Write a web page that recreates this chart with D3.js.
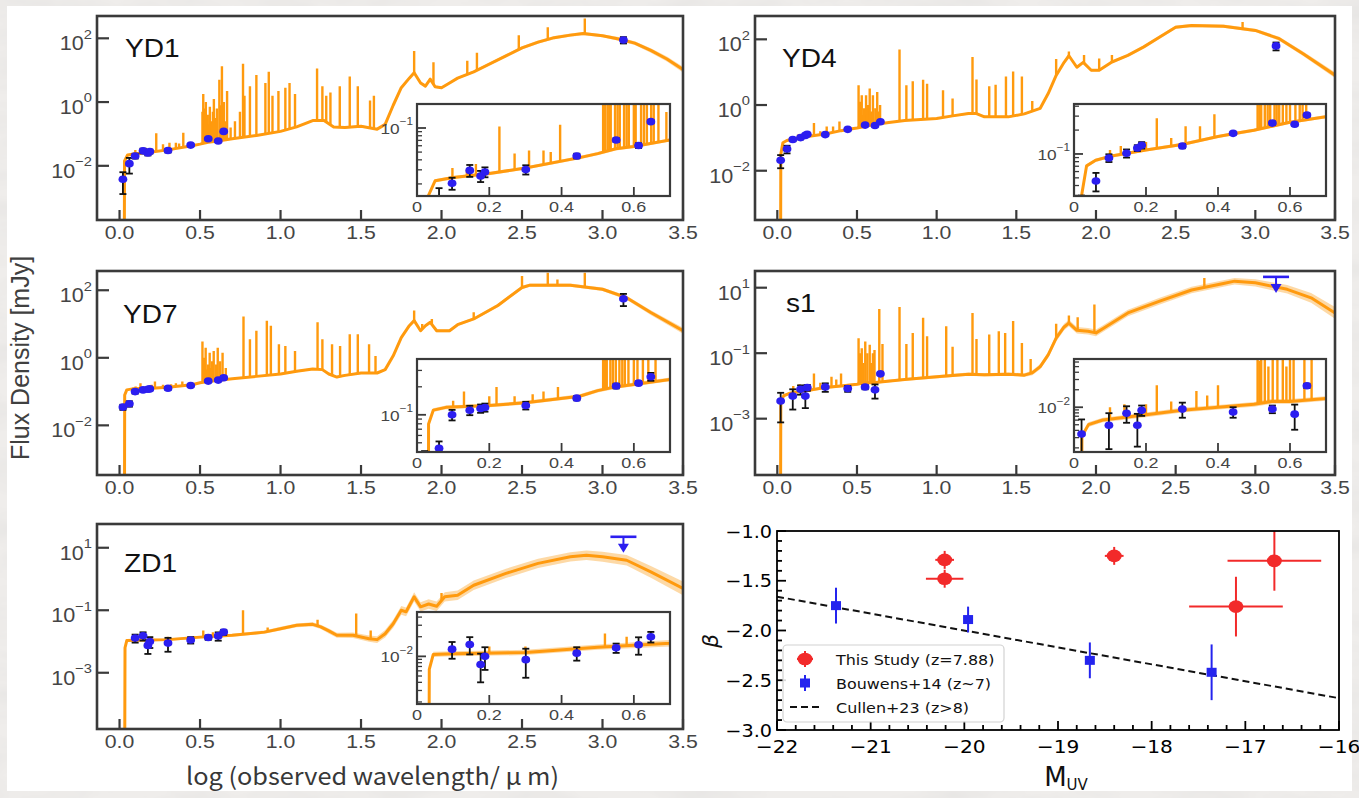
<!DOCTYPE html>
<html>
<head>
<meta charset="utf-8">
<title>SED fits and UV slopes</title>
<script src="https://cdn.jsdelivr.net/npm/d3@7/dist/d3.min.js"></script>
<style>
  html, body { margin: 0; padding: 0; background: #fff; }
  svg { display: block; }
</style>
</head>
<body>
<svg id="fig" width="1359" height="798"></svg>
<script>
// ---------------- data ----------------
// x of every spectral panel: log10(observed wavelength / micron); fluxes in mJy.
const mainXTicks = [0, 0.5, 1.0, 1.5, 2.0, 2.5, 3.0, 3.5];
const insetXTicks = [0, 0.2, 0.4, 0.6];

// Model SED continua: [log wavelength, log flux, half-width of the model band (dex)]
const yd1Continuum = [[-0.14,-6,0],[0.029,-6,0],[0.031,-1.85,0.02],[0.05,-1.66,0.02],[0.1,-1.62,0.02],[0.2,-1.57,0.02],[0.3,-1.5,0.02],[0.45,-1.37,0.02],[0.5,-1.32,0.02],[0.55,-1.26,0.02],[0.6,-1.23,0.02],[0.7,-1.15,0.02],[0.85,-1.05,0.02],[1.0,-0.92,0.02],[1.1,-0.78,0.02],[1.2,-0.58,0.03],[1.27,-0.58,0.03],[1.33,-0.78,0.03],[1.4,-0.8,0.03],[1.5,-0.76,0.03],[1.6,-0.85,0.03],[1.65,-0.7,0.03],[1.7,-0.1,0.04],[1.75,0.45,0.04],[1.8,0.75,0.04],[1.83,0.92,0.04],[1.87,0.6,0.04],[1.9,0.5,0.04],[1.93,0.72,0.04],[1.96,0.48,0.04],[2.0,0.45,0.04],[2.05,0.6,0.04],[2.1,0.75,0.04],[2.2,0.95,0.04],[2.3,1.2,0.04],[2.4,1.45,0.05],[2.5,1.7,0.05],[2.6,1.88,0.05],[2.7,2.02,0.05],[2.8,2.1,0.05],[2.88,2.15,0.05],[3.0,2.08,0.05],[3.1,1.98,0.06],[3.2,1.85,0.06],[3.3,1.62,0.07],[3.4,1.35,0.08],[3.5,1.02,0.09]];
const yd4Continuum = [[-0.14,-6,0],[0.02,-6,0],[0.022,-1.5,0.02],[0.035,-1.15,0.02],[0.06,-1.08,0.02],[0.1,-1.03,0.02],[0.2,-0.95,0.02],[0.3,-0.88,0.02],[0.4,-0.78,0.02],[0.45,-0.74,0.02],[0.5,-0.7,0.02],[0.6,-0.6,0.02],[0.7,-0.53,0.02],[0.8,-0.47,0.02],[1.0,-0.41,0.02],[1.1,-0.33,0.03],[1.2,-0.26,0.03],[1.25,-0.26,0.03],[1.3,-0.36,0.03],[1.45,-0.36,0.03],[1.55,-0.27,0.03],[1.65,-0.1,0.03],[1.7,0.35,0.04],[1.75,0.9,0.04],[1.8,1.3,0.04],[1.83,1.5,0.04],[1.88,1.15,0.04],[1.92,1.3,0.04],[1.97,1.06,0.04],[2.02,1.06,0.04],[2.1,1.31,0.04],[2.2,1.51,0.04],[2.3,1.77,0.04],[2.4,2.07,0.05],[2.5,2.37,0.05],[2.6,2.42,0.05],[2.8,2.4,0.05],[3.0,2.27,0.05],[3.15,2.02,0.06],[3.3,1.56,0.07],[3.5,0.91,0.09]];
const yd7Continuum = [[-0.14,-6,0],[0.03,-6,0],[0.032,-1.1,0.02],[0.045,-0.95,0.02],[0.08,-0.92,0.02],[0.2,-0.9,0.02],[0.3,-0.87,0.02],[0.45,-0.8,0.02],[0.5,-0.74,0.02],[0.55,-0.7,0.02],[0.7,-0.62,0.02],[0.85,-0.55,0.02],[1.0,-0.48,0.02],[1.1,-0.4,0.03],[1.2,-0.33,0.03],[1.26,-0.35,0.03],[1.3,-0.48,0.03],[1.35,-0.57,0.03],[1.4,-0.52,0.03],[1.5,-0.45,0.03],[1.6,-0.45,0.03],[1.65,-0.35,0.03],[1.7,0.06,0.04],[1.75,0.6,0.04],[1.8,0.95,0.04],[1.83,1.1,0.04],[1.87,0.8,0.04],[1.9,0.95,0.04],[1.93,1.05,0.04],[1.97,0.8,0.04],[2.05,0.8,0.04],[2.1,0.98,0.04],[2.2,1.15,0.04],[2.35,1.55,0.05],[2.5,2.08,0.05],[2.55,2.15,0.05],[2.8,2.15,0.05],[3.0,2.03,0.05],[3.15,1.78,0.06],[3.3,1.34,0.07],[3.5,0.8,0.09]];
const s1Continuum = [[-0.14,-6,0],[0.02,-6,0],[0.022,-2.5,0.04],[0.04,-2.3,0.04],[0.08,-2.22,0.04],[0.2,-2.13,0.04],[0.3,-2.05,0.04],[0.4,-2.0,0.04],[0.5,-1.95,0.04],[0.55,-1.9,0.04],[0.6,-1.9,0.04],[0.8,-1.8,0.04],[1.0,-1.72,0.05],[1.1,-1.68,0.05],[1.2,-1.64,0.05],[1.3,-1.66,0.05],[1.45,-1.64,0.05],[1.55,-1.67,0.06],[1.6,-1.6,0.07],[1.65,-1.41,0.08],[1.7,-1.05,0.09],[1.75,-0.54,0.1],[1.8,-0.2,0.1],[1.83,-0.08,0.1],[1.88,-0.3,0.1],[1.95,-0.33,0.1],[2.0,-0.38,0.1],[2.05,-0.23,0.1],[2.2,0.23,0.1],[2.4,0.59,0.1],[2.6,0.93,0.1],[2.8,1.13,0.1],[2.87,1.2,0.1],[3.0,1.15,0.11],[3.2,0.95,0.13],[3.35,0.69,0.15],[3.5,0.23,0.18]];
const zd1Continuum = [[-0.14,-6,0],[0.032,-6,0],[0.034,-2.2,0.04],[0.045,-1.97,0.04],[0.1,-1.96,0.04],[0.3,-1.94,0.04],[0.5,-1.86,0.04],[0.7,-1.8,0.05],[0.9,-1.7,0.05],[1.0,-1.59,0.06],[1.1,-1.48,0.06],[1.2,-1.45,0.07],[1.25,-1.53,0.07],[1.3,-1.66,0.08],[1.35,-1.8,0.08],[1.45,-1.8,0.09],[1.55,-1.91,0.1],[1.6,-1.94,0.11],[1.65,-1.75,0.12],[1.7,-1.43,0.13],[1.75,-1.0,0.14],[1.78,-1.05,0.14],[1.83,-0.57,0.15],[1.87,-0.89,0.15],[1.92,-0.8,0.15],[1.97,-0.87,0.15],[2.02,-0.57,0.15],[2.1,-0.52,0.15],[2.2,-0.2,0.15],[2.4,0.18,0.15],[2.6,0.5,0.15],[2.8,0.71,0.15],[2.9,0.76,0.15],[3.0,0.71,0.16],[3.15,0.6,0.17],[3.3,0.23,0.19],[3.5,-0.3,0.22]];

// Emission lines: [log wavelength, log peak flux]
const yd1Lines = [[0.098,-1.5],[0.138,-1.52],[0.163,-1.45],[0.228,-0.98],[0.27,-1.32],[0.31,-1.28],[0.35,-1.28],[0.37,-1.3],[0.396,-0.96],[0.515,-0.3],[0.52,0.25],[0.527,-0.2],[0.532,-0.6],[0.536,0.0],[0.548,-0.4],[0.555,-0.7],[0.561,-0.15],[0.573,-0.6],[0.58,-0.3],[0.586,0.1],[0.6,-0.5],[0.605,-0.2],[0.62,0.7],[0.628,-0.1],[0.636,1.12],[0.648,0.0],[0.655,-0.6],[0.668,0.35],[0.69,-0.8],[0.717,-0.6],[0.748,-0.3],[0.767,1.2],[0.776,0.2],[0.81,0.5],[0.85,0.85],[0.906,0.6],[0.927,0.95],[0.95,0.2],[0.987,0.35],[1.03,0.45],[1.056,0.6],[1.09,0.25],[1.227,1.05],[1.26,0.5],[1.284,0.2],[1.31,0.3],[1.368,0.5],[1.43,0.8],[1.48,0.5],[1.556,0.05],[1.58,0.2],[1.83,1.6],[1.95,1.25],[2.16,1.3],[2.22,1.55],[2.48,2.1],[2.66,2.35],[2.89,2.62]];
const yd4Lines = [[0.1,-0.95],[0.13,-0.9],[0.2,-0.85],[0.23,-0.55],[0.27,-0.8],[0.31,-0.65],[0.35,-0.65],[0.39,-0.5],[0.51,0.6],[0.515,-0.2],[0.52,0.1],[0.53,0.3],[0.538,-0.3],[0.545,-0.1],[0.557,0.3],[0.563,-0.3],[0.57,0.0],[0.58,0.5],[0.59,-0.2],[0.6,0.3],[0.615,-0.1],[0.627,0.4],[0.635,-0.2],[0.645,0.0],[0.767,1.69],[0.81,0.6],[0.85,0.72],[0.915,0.77],[0.94,0.65],[1.04,0.45],[1.1,0.2],[1.225,1.46],[1.25,0.78],[1.33,0.57],[1.37,0.62],[1.435,0.87],[1.48,1.02],[1.535,0.87],[1.6,0.12],[1.75,1.4],[1.83,1.63],[1.925,1.52],[2.02,1.42],[2.1,1.52],[2.46,2.28],[2.92,2.53]];
const yd7Lines = [[0.1,-0.85],[0.13,-0.75],[0.2,-0.8],[0.22,-0.7],[0.27,-0.8],[0.32,-0.78],[0.35,-0.75],[0.39,-0.7],[0.515,0.48],[0.52,-0.3],[0.525,0.0],[0.535,0.3],[0.542,-0.35],[0.55,-0.2],[0.56,0.15],[0.568,-0.3],[0.575,-0.1],[0.585,0.2],[0.6,-0.2],[0.61,0.3],[0.625,-0.1],[0.64,0.15],[0.66,-0.3],[0.77,1.22],[0.81,0.55],[0.85,0.8],[0.915,1.1],[0.94,0.95],[0.99,0.4],[1.03,0.35],[1.09,0.2],[1.23,1.05],[1.26,0.55],[1.32,0.4],[1.37,0.35],[1.43,0.7],[1.48,0.7],[1.55,0.4],[1.59,0.05],[1.83,1.4],[1.88,1.0],[1.94,1.15],[2.2,1.35],[2.5,2.42],[2.66,2.52],[2.72,2.32],[2.89,2.52]];
const s1Lines = [[0.1,-2.0],[0.14,-1.95],[0.2,-1.95],[0.23,-1.62],[0.27,-1.9],[0.34,-1.72],[0.37,-1.8],[0.4,-1.62],[0.51,-0.54],[0.515,-1.2],[0.52,-1.0],[0.53,-0.85],[0.54,-1.3],[0.552,-0.64],[0.565,-1.0],[0.58,-0.74],[0.59,-1.3],[0.6,-1.0],[0.61,-0.9],[0.64,0.35],[0.66,-0.72],[0.767,0.41],[0.81,-0.72],[0.85,-0.38],[0.915,0.08],[0.94,-0.48],[1.06,-0.18],[1.1,-0.8],[1.225,0.23],[1.25,-0.57],[1.33,-0.43],[1.39,-0.33],[1.43,-0.38],[1.48,-0.02],[1.535,-0.69],[1.59,-1.18],[1.75,-0.1],[1.83,0.15],[1.885,0.1],[1.99,0.49],[2.68,1.3]];
const zd1Lines = [[0.2,-1.85],[0.3,-1.85],[0.52,-1.65],[0.58,-1.7],[0.767,-1.0],[0.92,-1.55],[1.23,-1.3],[1.47,-1.1],[1.56,-1.65],[2.0,-0.45]];

// Photometry: [log wavelength, flux (mJy), 1-sigma error (mJy)]
const yd1Phot = [[0.021,0.0038,0.0025],[0.061,0.0117,0.006],[0.097,0.0204,0.0035],[0.146,0.0295,0.005],[0.176,0.0251,0.004],[0.188,0.0282,0.004],[0.301,0.0302,0.004],[0.442,0.0447,0.003],[0.551,0.0708,0.004],[0.613,0.0603,0.004],[0.647,0.120,0.005]];
const yd4Phot = [[0.021,0.0209,0.009],[0.061,0.0457,0.012],[0.097,0.0891,0.01],[0.146,0.102,0.012],[0.176,0.119,0.01],[0.188,0.129,0.012],[0.301,0.126,0.008],[0.442,0.182,0.006],[0.551,0.245,0.012],[0.613,0.237,0.01],[0.647,0.309,0.015]];
const yd7Phot = [[0.021,0.0347,0.006],[0.061,0.0437,0.008],[0.097,0.100,0.013],[0.146,0.112,0.013],[0.176,0.117,0.012],[0.188,0.120,0.012],[0.301,0.126,0.012],[0.442,0.151,0.008],[0.551,0.204,0.012],[0.613,0.219,0.01],[0.647,0.257,0.025]];
const s1Phot = [[0.021,0.00347,0.0027],[0.097,0.0049,0.003],[0.146,0.0079,0.0025],[0.176,0.0049,0.0028],[0.188,0.0089,0.0018],[0.301,0.0093,0.0027],[0.442,0.0083,0.0017],[0.551,0.0093,0.0014],[0.613,0.0076,0.0035],[0.647,0.0234,0.002]];
const zd1Phot = [[0.097,0.0129,0.0037],[0.146,0.0152,0.0045],[0.176,0.0075,0.0035],[0.188,0.0100,0.0038],[0.301,0.0089,0.0042],[0.442,0.0112,0.0026],[0.551,0.0135,0.0022],[0.613,0.0151,0.0045],[0.647,0.0200,0.0037]];

// Dust continuum detections [log wavelength, flux, error] and 3-sigma upper limits [log wavelength, flux]
const yd1FIR = [3.13, 89, 20];
const yd4FIR = [3.13, 63, 17];
const yd7FIR = [3.13, 56, 22];
const s1FIRLimit = [3.13, 21.4];
const zd1FIRLimit = [3.13, 22.4];

// Axis tick exponents (labelled 10^n)
const yd1YTicks = [-2, 0, 2];
const yd4YTicks = [-2, 0, 2];
const yd7YTicks = [-2, 0, 2];
const s1YTicks = [-3, -1, 1];
const zd1YTicks = [-3, -1, 1];
const yd1InsetTicks = [-1];
const yd4InsetTicks = [-1];
const yd7InsetTicks = [-1];
const s1InsetTicks = [-2];
const zd1InsetTicks = [-2];

// UV slope vs. absolute UV magnitude
const thisStudyMuv = [-20.21, -20.21, -18.40, -16.69, -17.10];
const thisStudyMuvErr = [0.10, 0.20, 0.10, 0.50, 0.50];
const thisStudyBeta = [-1.29, -1.48, -1.25, -1.30, -1.76];
const thisStudyBetaErr = [0.09, 0.09, 0.09, 0.30, 0.30];
const bouwensMuv = [-21.37, -19.96, -18.66, -17.36];
const bouwensBeta = [-1.75, -1.89, -2.30, -2.42];
const bouwensBetaErr = [0.18, 0.13, 0.18, 0.28];
const cullenMuv = [-22, -16];
const cullenBeta = [-1.66, -2.68];
const muvTicks = [-22, -21, -20, -19, -18, -17, -16];
const betaTicks = [-3.0, -2.5, -2.0, -1.5, -1.0];
const legendLabels = ["This Study (z=7.88)", "Bouwens+14 (z~7)", "Cullen+23 (z>8)"];

// ---------------- layout & style ----------------
const sans = "'Liberation Sans', Arial, Helvetica, sans-serif";
const dejavu = "'DejaVu Sans', sans-serif";
const sedColor = "#ff9a0e";
const bandColor = "#fdd59c";
const photColor = "#2c1ef0";
const frameColor = "#3a3a3a";
const tickTextColor = "#454545";

const colX = [[97, 683], [755, 1335]];
const rowY = [[16, 220], [271, 475], [524, 729]];
const insetX = [[417, 670], [1074, 1326]];
const insetY = [[104, 196], [359, 452], [612, 704]];
const mainXDomain = [-0.14, 3.5];
const insetXDomain = [0, 0.7];

const panels = [
  {key: "yd1", name: "YD1", col: 0, row: 0, yDom: [-3.7, 2.7], insetDom: [-1.85, -0.7], labelAt: [125, 57],
   cont: yd1Continuum, lines: yd1Lines, phot: yd1Phot, fir: yd1FIR, yTicks: yd1YTicks, insetTicks: yd1InsetTicks},
  {key: "yd4", name: "YD4", col: 1, row: 0, yDom: [-3.5, 2.71], insetDom: [-1.53, -0.37], labelAt: [782, 67],
   cont: yd4Continuum, lines: yd4Lines, phot: yd4Phot, fir: yd4FIR, yTicks: yd4YTicks, insetTicks: yd4InsetTicks},
  {key: "yd7", name: "YD7", col: 0, row: 1, yDom: [-3.47, 2.57], insetDom: [-1.4, -0.4], labelAt: [123, 323],
   cont: yd7Continuum, lines: yd7Lines, phot: yd7Phot, fir: yd7FIR, yTicks: yd7YTicks, insetTicks: yd7InsetTicks},
  {key: "s1", name: "s1", col: 1, row: 1, yDom: [-4.72, 1.51], insetDom: [-2.77, -1.17], labelAt: [786, 312],
   cont: s1Continuum, lines: s1Lines, phot: s1Phot, limit: s1FIRLimit, yTicks: s1YTicks, insetTicks: s1InsetTicks},
  {key: "zd1", name: "ZD1", col: 0, row: 2, yDom: [-4.8, 1.76], insetDom: [-2.73, -1.32], labelAt: [124, 572],
   cont: zd1Continuum, lines: zd1Lines, phot: zd1Phot, limit: zd1FIRLimit, yTicks: zd1YTicks, insetTicks: zd1InsetTicks}
];

// ---------------- drawing ----------------
const svg = d3.select("#fig");
const defs = svg.append("defs");

// mottled paper around the figure
const paper = defs.append("filter").attr("id", "paper").attr("x", 0).attr("y", 0).attr("width", "100%").attr("height", "100%");
paper.append("feTurbulence").attr("type", "fractalNoise").attr("baseFrequency", "0.012 0.035").attr("numOctaves", 4).attr("seed", 7).attr("result", "n");
paper.append("feColorMatrix").attr("in", "n").attr("type", "matrix")
  .attr("values", "0 0 0 0 0.78  0 0 0 0 0.77  0 0 0 0 0.76  1.4 0 0 0 -0.5");
svg.append("rect").attr("width", 1359).attr("height", 798).attr("fill", "#efedeb");
svg.append("rect").attr("width", 1359).attr("height", 798).attr("filter", "url(#paper)");
svg.append("rect").attr("x", 7).attr("y", 6).attr("width", 1345).attr("height", 785).attr("fill", "#fff");

function txt(parent, x, y, s, o) {
  return parent.append("text")
    .attr("transform", `translate(${x},${y}) scale(${o.sx || 1},1)`)
    .attr("font-family", o.font || sans)
    .attr("font-size", o.size)
    .attr("fill", o.color || "#000")
    .attr("text-anchor", o.anchor || "start")
    .text(s);
}

function powLabel(parent, x, y, e, size, sx, color) {
  const t = parent.append("text")
    .attr("transform", `translate(${x},${y}) scale(${sx},1)`)
    .attr("text-anchor", "end").attr("font-family", sans)
    .attr("font-size", size).attr("fill", color);
  t.append("tspan").text("10");
  t.append("tspan").attr("font-size", size * 0.68).attr("dy", -size * 0.58)
    .text(e < 0 ? "\u2212" + Math.abs(e) : String(e));
  return t;
}

function drawSED(g, x, y, cont, lines, key, st) {
  const yv = v => y(Math.pow(10, v));
  g.append("path").datum(cont)
    .attr("d", d3.area().x(d => x(d[0])).y0(d => yv(d[1] - d[2])).y1(d => yv(d[1] + d[2])))
    .attr("fill", bandColor).attr("opacity", 0.9);
  // emission lines rise from the continuum: clip them to the region above it
  const cid = "above-" + key;
  defs.append("clipPath").attr("id", cid).append("path")
    .attr("d", d3.area().x(d => x(d[0])).y0(d => yv(d[1])).y1(-60)(cont));
  const bottom = y.range()[0];
  g.append("g").attr("clip-path", `url(#${cid})`)
    .selectAll("line").data(lines).join("line")
    .attr("x1", d => x(d[0])).attr("x2", d => x(d[0]))
    .attr("y1", bottom + 5).attr("y2", d => yv(d[1]))
    .attr("stroke", sedColor).attr("stroke-width", st.spike);
  g.append("path").datum(cont)
    .attr("d", d3.line().x(d => x(d[0])).y(d => yv(d[1])))
    .attr("fill", "none").attr("stroke", sedColor)
    .attr("stroke-width", st.lw).attr("stroke-linejoin", "round");
}

function drawPhot(g, x, y, data, o) {
  const bottom = y.range()[0];
  const eb = g.append("g").attr("stroke", "#111").attr("stroke-width", o.ebw);
  data.forEach(d => {
    const cx = x(d[0]);
    const yt = y(d[1] + d[2]);
    const lo = d[1] - d[2];
    const yb = lo > 0 ? y(lo) : bottom + 20;
    eb.append("line").attr("x1", cx).attr("x2", cx).attr("y1", yt).attr("y2", yb);
    eb.append("line").attr("x1", cx - o.cap).attr("x2", cx + o.cap).attr("y1", yt).attr("y2", yt);
    if (lo > 0) eb.append("line").attr("x1", cx - o.cap).attr("x2", cx + o.cap).attr("y1", yb).attr("y2", yb);
  });
  g.append("g").selectAll("ellipse").data(data).join("ellipse")
    .attr("cx", d => x(d[0])).attr("cy", d => y(d[1]))
    .attr("rx", o.rx).attr("ry", o.ry).attr("fill", photColor);
}

function drawLimit(g, x, y, d) {
  const cx = x(d[0]), cy = y(d[1]);
  g.append("line").attr("x1", cx - 13).attr("x2", cx + 13).attr("y1", cy).attr("y2", cy)
    .attr("stroke", photColor).attr("stroke-width", 2.6);
  g.append("line").attr("x1", cx).attr("x2", cx).attr("y1", cy).attr("y2", cy + 9)
    .attr("stroke", photColor).attr("stroke-width", 2);
  g.append("path").attr("d", `M${cx - 5.5},${cy + 7} L${cx + 5.5},${cy + 7} L${cx},${cy + 16} Z`)
    .attr("fill", photColor);
}

function insetPanel(p) {
  const [ix0, ix1] = insetX[p.col];
  const [iy0, iy1] = insetY[p.row];
  const w = ix1 - ix0, h = iy1 - iy0;
  const g = svg.append("g").attr("transform", `translate(${ix0},${iy0})`);
  g.append("rect").attr("width", w).attr("height", h).attr("fill", "#fff");
  const x = d3.scaleLinear().domain(insetXDomain).range([0, w]);
  const y = d3.scaleLog().domain(p.insetDom.map(v => Math.pow(10, v))).range([h, 0]);
  const clip = "inset-" + p.key;
  defs.append("clipPath").attr("id", clip).append("rect").attr("width", w).attr("height", h);
  const plot = g.append("g").attr("clip-path", `url(#${clip})`);
  drawSED(plot, x, y, p.cont, p.lines, p.key + "-i", {lw: 3, spike: 2.4});
  drawPhot(plot, x, y, p.phot, {rx: 4.4, ry: 3.8, cap: 3.5, ebw: 1.8});

  g.append("rect").attr("width", w).attr("height", h).attr("fill", "none")
    .attr("stroke", frameColor).attr("stroke-width", 2.2);
  // x ticks
  insetXTicks.forEach(t => {
    const px = x(t);
    g.append("line").attr("x1", px).attr("x2", px).attr("y1", h).attr("y2", h - 9)
      .attr("stroke", frameColor).attr("stroke-width", 1.8);
    txt(g, px, h + 16, t === 0 ? "0" : d3.format(".1f")(t), {size: 15, sx: 1.2, anchor: "middle", color: tickTextColor});
  });
  // y ticks: decades labelled, sub-decades as minor marks
  const major = p.insetTicks.map(e => Math.pow(10, e));
  y.ticks().forEach(v => {
    const isMajor = major.some(m => Math.abs(m - v) / m < 1e-6);
    const py = y(v);
    g.append("line").attr("x1", 0).attr("x2", isMajor ? 9 : 5).attr("y1", py).attr("y2", py)
      .attr("stroke", frameColor).attr("stroke-width", isMajor ? 1.8 : 1.3);
  });
  p.insetTicks.forEach(e => powLabel(g, -4, y(Math.pow(10, e)) + 6, e, 15, 1.15, tickTextColor));
}

function mainPanel(p) {
  const [fx0, fx1] = colX[p.col];
  const [fy0, fy1] = rowY[p.row];
  const w = fx1 - fx0, h = fy1 - fy0;
  const g = svg.append("g").attr("transform", `translate(${fx0},${fy0})`);
  const x = d3.scaleLinear().domain(mainXDomain).range([0, w]);
  const y = d3.scaleLog().domain(p.yDom.map(v => Math.pow(10, v))).range([h, 0]);
  const clip = "plot-" + p.key;
  defs.append("clipPath").attr("id", clip).append("rect").attr("width", w).attr("height", h);
  const plot = g.append("g").attr("clip-path", `url(#${clip})`);
  drawSED(plot, x, y, p.cont, p.lines, p.key + "-m", {lw: 3, spike: 2.4});
  const pts = p.fir ? p.phot.concat([p.fir]) : p.phot;
  drawPhot(plot, x, y, pts, {rx: 4.4, ry: 3.8, cap: 3.5, ebw: 1.8});
  if (p.limit) drawLimit(g, x, y, p.limit);

  g.append("rect").attr("width", w).attr("height", h).attr("fill", "none")
    .attr("stroke", frameColor).attr("stroke-width", 2.6);
  mainXTicks.forEach(t => {
    const px = x(t);
    g.append("line").attr("x1", px).attr("x2", px).attr("y1", h).attr("y2", h - 10)
      .attr("stroke", frameColor).attr("stroke-width", 2.2);
    txt(g, px, h + 19, d3.format(".1f")(t), {size: 18.5, sx: 1.15, anchor: "middle", color: tickTextColor});
  });
  p.yTicks.forEach(e => {
    const py = y(Math.pow(10, e));
    g.append("line").attr("x1", 0).attr("x2", 12).attr("y1", py).attr("y2", py)
      .attr("stroke", frameColor).attr("stroke-width", 2.2);
    powLabel(g, -5, py + 12, e, 20, 1.08, tickTextColor);
  });
  txt(svg, p.labelAt[0], p.labelAt[1], p.name, {size: 26, sx: 1.08, color: "#111"});
  insetPanel(p);
}

panels.forEach(mainPanel);

// shared axis titles of the SED grid
svg.append("text")
  .attr("transform", "translate(29,358) rotate(-90)")
  .attr("text-anchor", "middle").attr("font-family", sans)
  .attr("font-size", 25).attr("fill", "#404040")
  .text("Flux Density [mJy]");
svg.append("text")
  .attr("x", 186).attr("y", 785)
  .attr("font-family", "'Noto Sans CJK JP', 'Noto Sans', sans-serif")
  .attr("font-size", 24).attr("fill", "#383838")
  .attr("textLength", 373).attr("lengthAdjust", "spacingAndGlyphs")
  .text("log (observed wavelength/ \u03bc m)");

// ---------------- beta vs. M_UV ----------------
(function betaPanel() {
  const bx = d3.scaleLinear().domain([-22, -16]).range([777, 1339]);
  const by = d3.scaleLinear().domain([-3, -1]).range([730, 531]);
  const g = svg.append("g");
  const red = "#f22a2a", blue = "#2424ee";

  // Cullen+23 relation
  g.append("path")
    .datum(cullenMuv.map((m, i) => [m, cullenBeta[i]]))
    .attr("d", d3.line().x(d => bx(d[0])).y(d => by(d[1])))
    .attr("stroke", "#111").attr("stroke-width", 2).attr("stroke-dasharray", "7,4").attr("fill", "none");

  // Bouwens+14
  bouwensMuv.forEach((m, i) => {
    const cx = bx(m);
    g.append("line").attr("x1", cx).attr("x2", cx)
      .attr("y1", by(bouwensBeta[i] + bouwensBetaErr[i])).attr("y2", by(bouwensBeta[i] - bouwensBetaErr[i]))
      .attr("stroke", blue).attr("stroke-width", 2);
    g.append("rect").attr("x", cx - 5).attr("y", by(bouwensBeta[i]) - 4.5).attr("width", 10).attr("height", 9)
      .attr("fill", blue);
  });

  // this study
  thisStudyMuv.forEach((m, i) => {
    const cx = bx(m), cy = by(thisStudyBeta[i]);
    g.append("line").attr("x1", bx(m - thisStudyMuvErr[i])).attr("x2", bx(m + thisStudyMuvErr[i]))
      .attr("y1", cy).attr("y2", cy).attr("stroke", red).attr("stroke-width", 2);
    g.append("line").attr("x1", cx).attr("x2", cx)
      .attr("y1", by(thisStudyBeta[i] + thisStudyBetaErr[i])).attr("y2", by(thisStudyBeta[i] - thisStudyBetaErr[i]))
      .attr("stroke", red).attr("stroke-width", 2);
    g.append("ellipse").attr("cx", cx).attr("cy", cy).attr("rx", 7.5).attr("ry", 6.3).attr("fill", red);
  });

  // frame & ticks
  g.append("rect").attr("x", 777).attr("y", 531).attr("width", 562).attr("height", 199)
    .attr("fill", "none").attr("stroke", "#000").attr("stroke-width", 1.8);
  d3.range(-22, -15.99, 0.2).forEach(v => {
    const major = Math.abs(v - Math.round(v)) < 1e-6;
    g.append("line").attr("x1", bx(v)).attr("x2", bx(v)).attr("y1", 730).attr("y2", 730 - (major ? 9 : 5))
      .attr("stroke", "#000").attr("stroke-width", 1.8);
  });
  d3.range(-3, -0.99, 0.1).forEach(v => {
    const major = Math.abs(v * 2 - Math.round(v * 2)) < 1e-6;
    g.append("line").attr("x1", 777).attr("x2", 777 + (major ? 9 : 5)).attr("y1", by(v)).attr("y2", by(v))
      .attr("stroke", "#000").attr("stroke-width", 1.8);
  });
  muvTicks.forEach(v => txt(g, bx(v), 753, "\u2212" + Math.abs(v), {font: dejavu, size: 18, sx: 1.12, anchor: "middle"}));
  betaTicks.forEach(v => txt(g, 772, by(v) + 6.5, "\u2212" + Math.abs(v).toFixed(1), {font: dejavu, size: 17.5, sx: 1.1, anchor: "end"}));

  // axis titles
  const ml = g.append("text").attr("transform", "translate(1066,786)").attr("text-anchor", "middle")
    .attr("font-family", dejavu).attr("font-size", 26).attr("fill", "#111");
  ml.append("tspan").text("M");
  ml.append("tspan").attr("font-size", 15).attr("dy", 4).text("UV");
  g.append("text").attr("transform", "translate(718,641) rotate(-90)").attr("text-anchor", "middle")
    .attr("font-family", dejavu).attr("font-style", "italic").attr("font-size", 22).attr("fill", "#111")
    .text("\u03b2");

  // legend
  const lg = g.append("g");
  lg.append("rect").attr("x", 783).attr("y", 645).attr("width", 221).attr("height", 77).attr("rx", 4)
    .attr("fill", "#fff").attr("fill-opacity", 0.85).attr("stroke", "#d2d2d2").attr("stroke-width", 1.2);
  const rows = [659, 683, 707];
  lg.append("line").attr("x1", 797).attr("x2", 813).attr("y1", rows[0]).attr("y2", rows[0]).attr("stroke", red).attr("stroke-width", 2);
  lg.append("line").attr("x1", 805).attr("x2", 805).attr("y1", rows[0] - 8).attr("y2", rows[0] + 8).attr("stroke", red).attr("stroke-width", 2);
  lg.append("ellipse").attr("cx", 805).attr("cy", rows[0]).attr("rx", 7.5).attr("ry", 6.3).attr("fill", red);
  lg.append("line").attr("x1", 805).attr("x2", 805).attr("y1", rows[1] - 8).attr("y2", rows[1] + 8).attr("stroke", blue).attr("stroke-width", 2);
  lg.append("rect").attr("x", 800).attr("y", rows[1] - 4.5).attr("width", 10).attr("height", 9).attr("fill", blue);
  lg.append("line").attr("x1", 790).attr("x2", 822).attr("y1", rows[2]).attr("y2", rows[2])
    .attr("stroke", "#111").attr("stroke-width", 2).attr("stroke-dasharray", "7,4");
  legendLabels.forEach((s, i) => txt(lg, 836, rows[i] + 5.5, s, {font: dejavu, size: 14.5, sx: 1.1, color: "#111"}));
})();
</script>
</body>
</html>
